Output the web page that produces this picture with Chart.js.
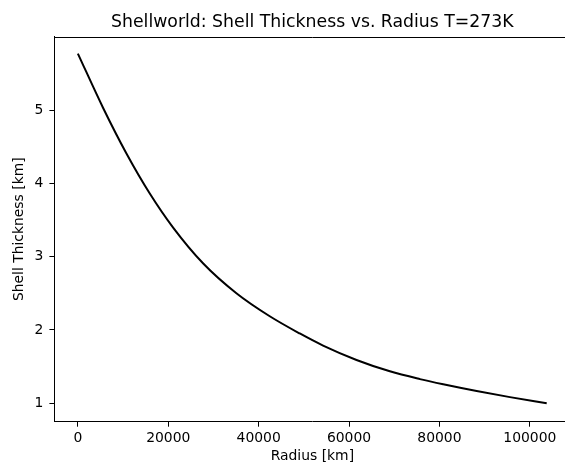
<!DOCTYPE html>
<html>
<head>
<meta charset="utf-8">
<script src="https://cdn.jsdelivr.net/npm/chart.js@4"></script>
<style>
html, body { margin: 0; padding: 0; overflow: hidden; width: 565px; height: 466px; background: #fff; }
#wrap { position: relative; width: 575px; height: 466px; }
canvas { display: block; }
</style>
</head>
<body>
<div id="wrap"><canvas id="c" width="575" height="466"></canvas></div>
<script>
// Data
const radiusKm = [0, 5540, 10720, 15880, 21040, 27690, 35080, 42460, 49100, 54260, 61660, 69040, 75680, 80840, 88240, 95610, 103740];
const shellThicknessKm = [5.77, 5.035, 4.411, 3.865, 3.40, 2.910, 2.501, 2.187, 1.952, 1.787, 1.591, 1.436, 1.330, 1.259, 1.167, 1.084, 1.0];
const xTickValues = [0, 20000, 40000, 60000, 80000, 100000];
const yTickValues = [1, 2, 3, 4, 5];
const titleText = 'Shellworld: Shell Thickness vs. Radius T=273K';
const xLabel = 'Radius [km]';
const yLabel = 'Shell Thickness [km]';

const points = radiusKm.map((r, i) => ({ x: r, y: shellThicknessKm[i] }));
const FONT = 'DejaVu Sans';

// top spine of the matplotlib-style frame
const frame = {
  id: 'frame',
  afterDraw(chart) {
    const { ctx, chartArea: a } = chart;
    ctx.save();
    ctx.strokeStyle = '#000';
    ctx.lineWidth = 1;
    ctx.beginPath();
    const y = Math.round(a.top) + 0.5;
    ctx.moveTo(a.left, y);
    ctx.lineTo(a.right, y);
    ctx.stroke();
    ctx.restore();
  }
};

new Chart(document.getElementById('c'), {
  type: 'line',
  data: {
    datasets: [{
      data: points,
      borderColor: '#000',
      borderWidth: 2,
      pointRadius: 0,
      fill: false,
      cubicInterpolationMode: 'monotone'
    }]
  },
  options: {
    responsive: false,
    animation: false,
    devicePixelRatio: 1,
    layout: { padding: { left: 0, right: 4.7, top: 0, bottom: 0 } },
    plugins: {
      legend: { display: false },
      tooltip: { enabled: false },
      title: {
        display: true,
        fullSize: false,
        text: titleText,
        color: '#000',
        font: { family: FONT, size: 17.3, weight: 'normal', lineHeight: 1.2 },
        padding: { top: 12.0, bottom: 4.0 }
      }
    },
    scales: {
      x: {
        type: 'linear',
        min: -5190,
        max: 108960,
        afterBuildTicks: s => { s.ticks = xTickValues.map(v => ({ value: v })); },
        afterFit: s => { s.height = 466 - 421.7; },
        border: { display: true, color: '#000', width: 1 },
        grid: { drawOnChartArea: false, drawTicks: true, tickLength: 5, tickColor: '#000' },
        ticks: {
          color: '#000', padding: 3, maxRotation: 0, autoSkip: false,
          font: { family: FONT, size: 13.9 },
          callback: v => String(v)
        },
        title: {
          display: true, text: xLabel, color: '#000',
          font: { family: FONT, size: 13.9, lineHeight: 1.2 },
          padding: { top: 0, bottom: 1 }
        }
      },
      y: {
        type: 'linear',
        min: 0.749,
        max: 5.999,
        afterBuildTicks: s => { s.ticks = yTickValues.map(v => ({ value: v })); },
        afterFit: s => { s.width = 54.4; },
        border: { display: true, color: '#000', width: 1 },
        grid: { drawOnChartArea: false, drawTicks: true, tickLength: 5, tickColor: '#000' },
        ticks: {
          color: '#000', padding: 6, autoSkip: false,
          font: { family: FONT, size: 13.9 },
          callback: v => String(v)
        },
        title: {
          display: true, text: yLabel, color: '#000',
          font: { family: FONT, size: 13.9, lineHeight: 1.2 },
          padding: { top: 11.5, bottom: 0 }
        }
      }
    }
  },
  plugins: [frame]
});
</script>
</body>
</html>
